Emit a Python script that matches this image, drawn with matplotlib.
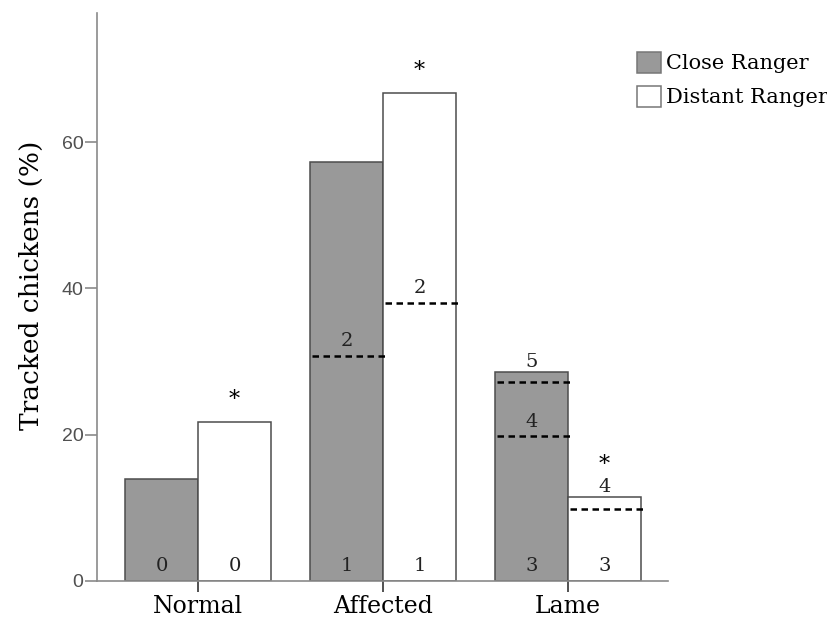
import matplotlib
matplotlib.use("Agg")
import matplotlib.pyplot as plt
import numpy as np

# Data ---------------------------------------------------------------
categories = ["Normal", "Affected", "Lame"]
series_names = ["Close Ranger", "Distant Ranger"]
close_pct = [14.0, 57.3, 28.6]
distant_pct = [21.8, 66.7, 11.5]

# Gait-score boundaries inside each bar: (level, score label)
close_scores = [
    [(0.0, "0")],
    [(0.0, "1"), (30.75, "2")],
    [(0.0, "3"), (19.8, "4"), (27.15, "5")],
]
distant_scores = [
    [(0.0, "0")],
    [(0.0, "1"), (38.0, "2")],
    [(0.0, "3"), (9.8, "4")],
]
distant_significant = [True, True, True]

yticks = [0, 20, 40, 60]

# Figure -------------------------------------------------------------
fig = plt.figure(figsize=(8.28, 6.19), dpi=100)
ax = fig.add_axes([0.1168, 0.0614, 0.69, 0.9181])

x = np.arange(len(categories))
w = 0.395
axis_grey = "#8a8a8a"
edge_grey = "#4d4d4d"

bars_close = ax.bar(x - w / 2, close_pct, width=w, color="#999999",
                    edgecolor=edge_grey, linewidth=1.1, label=series_names[0],
                    zorder=2)
bars_dist = ax.bar(x + w / 2, distant_pct, width=w, color="white",
                   edgecolor=edge_grey, linewidth=1.1, label=series_names[1],
                   zorder=2)

label_font = dict(family="DejaVu Serif", fontsize=14, color="#222222")


def annotate_bar(xc, top, scores):
    """Draw dashed score boundaries and score labels for one bar."""
    highest = 0.0
    for level, txt in scores:
        if level > 0:
            ax.hlines(level, xc - w / 2 + 0.01, xc + w / 2 + 0.01,
                      colors="black", linewidth=1.8,
                      linestyles=(0, (2.6, 1.8)), zorder=3)
        y = level + 2.0
        if level > 0 and y > top - 1.5:
            y = top + 1.3
        ax.text(xc, y, txt, ha="center", va="center", zorder=4, **label_font)
        highest = max(highest, y)
    return highest


for i in range(len(categories)):
    annotate_bar(x[i] - w / 2, close_pct[i], close_scores[i])
    hi = annotate_bar(x[i] + w / 2, distant_pct[i], distant_scores[i])
    if distant_significant[i]:
        ax.text(x[i] + w / 2, max(distant_pct[i], hi) + 3.0, "*",
                ha="center", va="center", family="DejaVu Serif",
                fontsize=16, color="black")

# Axes styling -------------------------------------------------------
ax.set_xlim(-0.548, 2.54)
ax.set_ylim(0, 77.7)
for s in ["top", "right"]:
    ax.spines[s].set_visible(False)
for s in ["left", "bottom"]:
    ax.spines[s].set_color(axis_grey)
    ax.spines[s].set_linewidth(1.2)

ax.set_yticks(yticks)
ax.set_yticklabels([str(t) for t in yticks], family="Liberation Sans",
                   fontsize=14, color="#505050")
ax.tick_params(axis="y", length=8.5, width=1.2, color=axis_grey, pad=1)

ax.set_xticks(x)
ax.set_xticklabels(categories, family="DejaVu Serif", fontsize=17,
                   color="black")
ax.tick_params(axis="x", length=8, width=1.2, color="#333333", pad=2)

ax.set_ylabel("Tracked chickens (%)", family="DejaVu Serif", fontsize=19)
ax.yaxis.set_label_coords(-0.093, 0.52)

leg = ax.legend(loc="upper left", bbox_to_anchor=(637 / 828, 1 - 52 / 619),
                bbox_transform=fig.transFigure, frameon=False,
                prop=dict(family="DejaVu Serif", size=15),
                handlelength=1.15, handleheight=1.15, handletextpad=0.25,
                labelspacing=0.6, borderpad=0, borderaxespad=0)
for h in leg.legend_handles:
    h.set_edgecolor("#777777")

fig.savefig("out.png", dpi=100)
